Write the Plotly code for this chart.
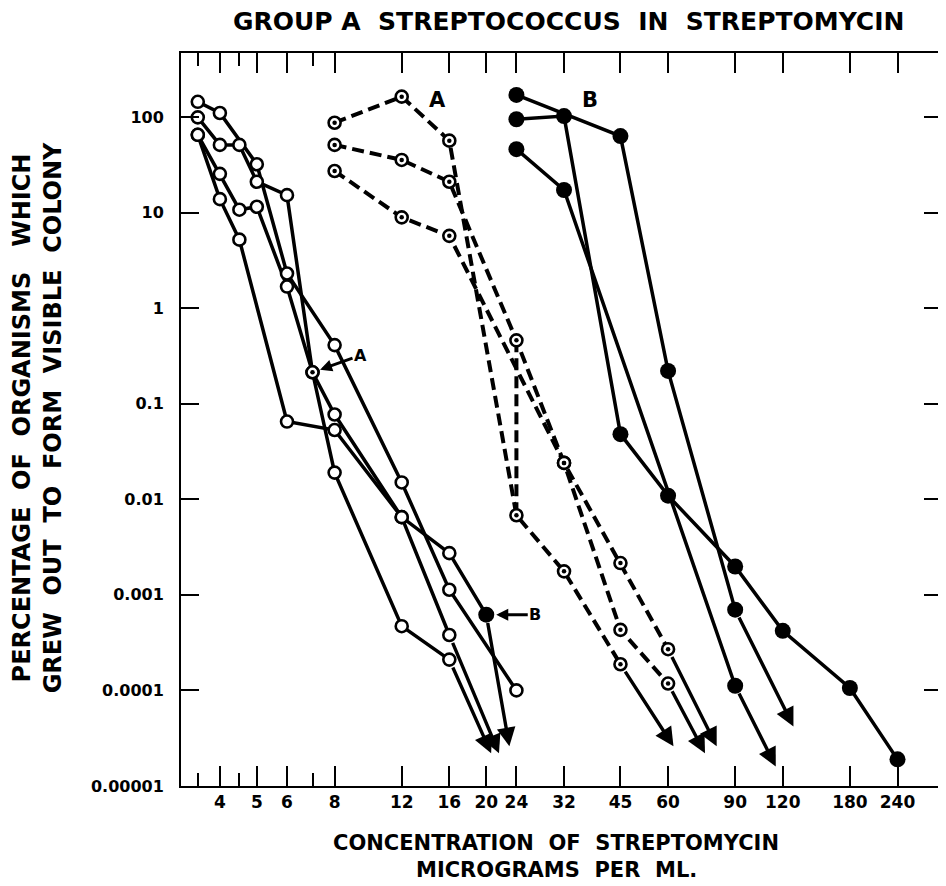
import numpy as np
import plotly.graph_objects as go

# ---------------- data ----------------
# Left group: open circles, solid lines
L1_x = [3.5, 4, 5, 6, 8, 12, 16, 24]
L1_y = [144, 110, 32, 2.3, 0.41, 0.015, 0.00113, 0.0001]
L2_x = [3.5, 4, 4.5, 5, 6, 7, 8, 12, 16]
L2_y = [99, 51, 51, 21, 15.2, 0.213, 0.019, 0.00047, 0.00021]
L2_tip = [20.6, 2.2e-5]
L3_x = [3.5, 4, 4.5, 5, 6, 7, 8, 12, 16, 20]
L3_y = [65, 25.4, 10.7, 11.5, 1.68, 0.213, 0.077, 0.0065, 0.00273, 0.00062]
L3_tip = [23, 2.6e-5]
L4_x = [3.5, 4, 4.5, 6, 8, 12, 16]
L4_y = [65, 13.8, 5.2, 0.065, 0.053, 0.0065, 0.00038]
L4_tip = [21.6, 2.2e-5]

# Experiment A: dotted circles, dashed lines
A1_x = [8, 12, 16, 24, 32, 45]
A1_y = [87, 163, 56.5, 0.0068, 0.00176, 0.000188]
A1_tip = [62, 2.6e-5]
A2_x = [8, 12, 16, 24, 32, 45, 60]
A2_y = [51, 35.5, 21, 0.46, 0.024, 0.00215, 0.00027]
A2_tip = [80.5, 2.6e-5]
A3_x = [8, 12, 16, 32, 45, 60]
A3_y = [27.2, 8.9, 5.7, 0.024, 0.00043, 0.000118]
A3_tip = [75, 2.2e-5]

# Experiment B: filled circles, solid lines
B1_x = [24, 45, 60, 90]
B1_y = [170, 63, 0.22, 0.0007]
B1_tip = [128, 4.2e-5]
B2_x = [24, 32, 45, 60, 90, 120, 180, 240]
B2_y = [94.6, 102, 0.048, 0.0109, 0.00198, 0.00042, 0.000106, 1.9e-5]
B3_x = [24, 32, 90]
B3_y = [46, 17.2, 0.000112]
B3_tip = [115, 1.6e-5]

x_tickvals = [4, 5, 6, 8, 12, 16, 20, 24, 32, 45, 60, 90, 120, 180, 240]
x_ticktext = ["4", "5", "6", "8", "12", "16", "20", "24", "32", "45", "60", "90", "120", "180", "240"]
x_minor = [3.5, 4.5, 7]
y_tickvals = [1e-5, 1e-4, 1e-3, 1e-2, 1e-1, 1, 10, 100]
y_ticktext = ["0.00001", "0.0001", "0.001", "0.01", "0.1", "1", "10", "100"]

FONT = "DejaVu Sans"
LW = 3.5
DASH = "12px,6px"
fig = go.Figure()

def line(x, y, dash="solid", width=LW):
    fig.add_trace(go.Scatter(x=x, y=y, mode="lines",
                             line=dict(color="black", width=width, dash=dash),
                             hoverinfo="skip", showlegend=False))

def open_markers(x, y, size=12):
    fig.add_trace(go.Scatter(x=x, y=y, mode="markers",
                             marker=dict(symbol="circle", size=size, color="white",
                                         line=dict(color="black", width=2.6)),
                             hoverinfo="skip", showlegend=False))

def dot_markers(x, y):
    fig.add_trace(go.Scatter(x=x, y=y, mode="markers",
                             marker=dict(symbol="circle", size=4.5, color="black",
                                         line=dict(width=0)),
                             hoverinfo="skip", showlegend=False))

def filled_markers(x, y):
    fig.add_trace(go.Scatter(x=x, y=y, mode="markers",
                             marker=dict(symbol="circle", size=16, color="black",
                                         line=dict(width=0)),
                             hoverinfo="skip", showlegend=False))

# lines
for xs, ys in [(L1_x, L1_y), (L2_x, L2_y), (L3_x, L3_y), (L4_x, L4_y),
               (B1_x, B1_y), (B2_x, B2_y), (B3_x, B3_y)]:
    line(xs, ys)
for xs, ys in [(A1_x, A1_y), (A2_x, A2_y), (A3_x, A3_y)]:
    line(xs, ys, dash=DASH, width=4)
# vertical dashed link at 24
line([A2_x[3], A1_x[3]], [A2_y[3], A1_y[3]], dash=DASH, width=4)

# markers
for xs, ys in [(L1_x, L1_y), (L2_x, L2_y), (L3_x, L3_y), (L4_x, L4_y),
               (A1_x, A1_y), (A2_x, A2_y), (A3_x, A3_y)]:
    open_markers(xs, ys)
for xs, ys in [(A1_x, A1_y), (A2_x, A2_y), (A3_x, A3_y)]:
    dot_markers(xs, ys)
# the "A" point in the left group (dotted) and the "B" point (filled)
dot_markers([L2_x[5]], [L2_y[5]])
for xs, ys in [(B1_x, B1_y), (B2_x, B2_y), (B3_x, B3_y)]:
    filled_markers(xs, ys)
filled_markers([L3_x[-1]], [L3_y[-1]])

# page has an 8px body margin: figure is sized/placed to compensate
OFF = 8
W, H = 946 - OFF, 886 - OFF
PL, PR, PT, PB = 173, 2, 45, 100
pw, ph = W - PL - PR, H - PT - PB

def px(xp):
    return (xp - OFF - PL) / pw

def py(yp):
    return (H - PB - (yp - OFF)) / ph

bold = dict(family=FONT, color="black", weight="bold")

annotations = [
    dict(text="GROUP A  STREPTOCOCCUS  IN  STREPTOMYCIN", x=px(570), y=py(22),
         font=dict(size=25, **bold)),
    dict(text="CONCENTRATION  OF  STREPTOMYCIN", x=px(557), y=py(843),
         font=dict(size=21, **bold)),
    dict(text="MICROGRAMS  PER  ML.", x=px(557), y=py(870),
         font=dict(size=21, **bold)),
    dict(text="PERCENTAGE  OF  ORGANISMS   WHICH", x=px(22), y=py(418), textangle=-90,
         font=dict(size=24, **bold)),
    dict(text="GREW  OUT  TO  FORM  VISIBLE  COLONY", x=px(53), y=py(418), textangle=-90,
         font=dict(size=24, **bold)),
    dict(text="A", x=px(438), y=py(100), font=dict(size=21, **bold)),
    dict(text="B", x=px(591), y=py(100), font=dict(size=21, **bold)),
]
for a in annotations:
    a.update(xref="paper", yref="paper", showarrow=False, xanchor="center", yanchor="middle")

annotations += [
    dict(text="A", x=np.log10(L2_x[5]), y=np.log10(L2_y[5]), xref="x", yref="y",
         ax=48, ay=-17, showarrow=True, arrowhead=2, arrowsize=0.8, arrowwidth=3,
         arrowcolor="black", standoff=8, font=dict(size=16, **bold)),
    dict(text="B", x=np.log10(L3_x[-1]), y=np.log10(L3_y[-1]), xref="x", yref="y",
         ax=49, ay=0, showarrow=True, arrowhead=2, arrowsize=0.8, arrowwidth=3,
         arrowcolor="black", standoff=10, font=dict(size=16, **bold)),
]

# downward arrows: from the last measured point to the arrow tip (data coords, log axes)
for xs, ys, tip in [(L2_x, L2_y, L2_tip), (L3_x, L3_y, L3_tip), (L4_x, L4_y, L4_tip),
                    (A1_x, A1_y, A1_tip), (A2_x, A2_y, A2_tip), (A3_x, A3_y, A3_tip),
                    (B1_x, B1_y, B1_tip), (B3_x, B3_y, B3_tip)]:
    annotations.append(dict(
        text="", x=np.log10(tip[0]), y=np.log10(tip[1]),
        ax=np.log10(xs[-1]), ay=np.log10(ys[-1]),
        xref="x", yref="y", axref="x", ayref="y",
        showarrow=True, arrowhead=2, arrowsize=1.1, arrowwidth=3.4,
        arrowcolor="black", standoff=0, startstandoff=7))

fig.update_layout(
    width=W, height=H,
    margin=dict(l=PL, r=PR, t=PT, b=PB),
    paper_bgcolor="white", plot_bgcolor="white",
    showlegend=False,
    annotations=annotations,
    xaxis=dict(type="log", range=[0.5, 2.497], showgrid=False, zeroline=False,
               showline=True, linecolor="black", linewidth=2, mirror="ticks",
               tickmode="array", tickvals=x_tickvals, ticktext=x_ticktext,
               ticks="inside", ticklen=20, tickwidth=2, tickcolor="black",
               tickfont=dict(size=17, **bold), ticklabelstandoff=0,
               minor=dict(tickvals=x_minor, ticks="inside", ticklen=13, tickwidth=2,
                          tickcolor="black", showgrid=False)),
    yaxis=dict(type="log", range=[-5, 2.669], showgrid=False, zeroline=False,
               showline=True, linecolor="black", linewidth=2, mirror="ticks",
               tickmode="array", tickvals=y_tickvals, ticktext=y_ticktext,
               ticks="inside", ticklen=18, tickwidth=2, tickcolor="black",
               tickfont=dict(size=16, **bold), ticklabelstandoff=12),
)

fig.write_html("out.html")
